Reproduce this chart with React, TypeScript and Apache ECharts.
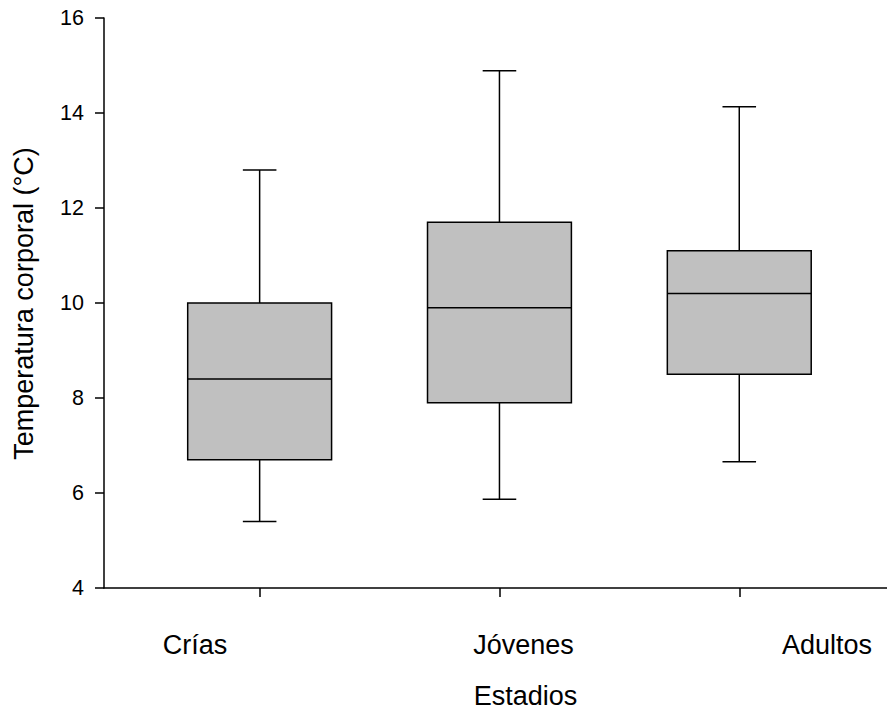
import React, { useEffect, useRef } from 'react';
import * as echarts from 'echarts';

const categories = ['Crías', 'Jóvenes', 'Adultos'];
const positions = [1, 2, 3];
const whiskerLow = [5.4, 5.87, 6.66];
const q1 = [6.7, 7.9, 8.5];
const median = [8.4, 9.9, 10.2];
const q3 = [10.0, 11.7, 11.1];
const whiskerHigh = [12.8, 14.89, 14.13];

const yMin = 4;
const yMax = 16;
const yInterval = 2;

const yTitle = 'Temperatura corporal (°C)';
const xTitle = 'Estadios';

// layout (pixel centres of the category labels)
const labelCentersX = [195, 523.5, 827];

const FONT = '"Liberation Sans", Arial, sans-serif';

export default function App() {
  const ref = useRef<HTMLDivElement>(null);
  useEffect(() => {
    const chart = echarts.init(ref.current!, null, { renderer: 'svg' });
    const lineStyle = { color: '#000', width: 1.5 };
    const data = positions.map((p, i) => [p, whiskerLow[i], q1[i], median[i], q3[i], whiskerHigh[i]]);

    const graphics: any[] = categories.map((c, i) => ({
      type: 'text',
      x: labelCentersX[i],
      y: 645,
      style: { text: c, fontSize: 27, fontFamily: FONT, fill: '#000', align: 'center', verticalAlign: 'middle' },
    }));
    graphics.push({
      type: 'text',
      x: 525.5,
      y: 696,
      style: { text: xTitle, fontSize: 27, fontFamily: FONT, fill: '#000', align: 'center', verticalAlign: 'middle' },
    });
    graphics.push({
      type: 'text',
      x: 24,
      y: 303.5,
      rotation: Math.PI / 2,
      style: { text: yTitle, fontSize: 27, fontFamily: FONT, fill: '#000', align: 'center', verticalAlign: 'middle' },
    });

    chart.setOption({
      animation: false,
      backgroundColor: '#fff',
      grid: { left: 104, right: 0, top: 18, bottom: 122 },
      xAxis: {
        type: 'value',
        min: 0.351,
        max: 3.616,
        axisLine: { show: true, onZero: false, lineStyle },
        axisTick: { show: true, customValues: positions, length: 9, lineStyle },
        axisLabel: { show: false },
        splitLine: { show: false },
      },
      yAxis: {
        type: 'value',
        min: yMin,
        max: yMax,
        interval: yInterval,
        axisLine: { show: true, onZero: false, lineStyle },
        axisTick: { show: true, length: 9, lineStyle },
        axisLabel: { fontSize: 21.5, color: '#000', fontFamily: FONT, margin: 20 },
        splitLine: { show: false },
      },
      graphic: graphics,
      series: [
        {
          type: 'custom',
          data,
          encode: { x: 0, y: [1, 2, 3, 4, 5] },
          renderItem: (params: any, api: any) => {
            const x = api.value(0);
            const pLow = api.coord([x, api.value(1)]);
            const pQ1 = api.coord([x, api.value(2)]);
            const pMed = api.coord([x, api.value(3)]);
            const pQ3 = api.coord([x, api.value(4)]);
            const pHigh = api.coord([x, api.value(5)]);
            const cx = pMed[0];
            const halfBox = api.size([0.6, 0])[0] / 2;
            const halfCap = api.size([0.14, 0])[0] / 2;
            const st = { stroke: '#000', lineWidth: 1.5, fill: null };
            return {
              type: 'group',
              children: [
                { type: 'line', shape: { x1: cx, y1: pHigh[1], x2: cx, y2: pQ3[1] }, style: st },
                { type: 'line', shape: { x1: cx, y1: pQ1[1], x2: cx, y2: pLow[1] }, style: st },
                { type: 'line', shape: { x1: cx - halfCap, y1: pHigh[1], x2: cx + halfCap, y2: pHigh[1] }, style: st },
                { type: 'line', shape: { x1: cx - halfCap, y1: pLow[1], x2: cx + halfCap, y2: pLow[1] }, style: st },
                {
                  type: 'rect',
                  shape: { x: cx - halfBox, y: pQ3[1], width: halfBox * 2, height: pQ1[1] - pQ3[1] },
                  style: { fill: '#c0c0c0', stroke: '#000', lineWidth: 1.5 },
                },
                { type: 'line', shape: { x1: cx - halfBox, y1: pMed[1], x2: cx + halfBox, y2: pMed[1] }, style: st },
              ],
            };
          },
        },
      ],
    });
    return () => chart.dispose();
  }, []);
  return (
    <div
      ref={ref}
      style={{ position: 'fixed', left: 0, top: 0, width: 887, height: 710, background: '#fff' }}
    />
  );
}
